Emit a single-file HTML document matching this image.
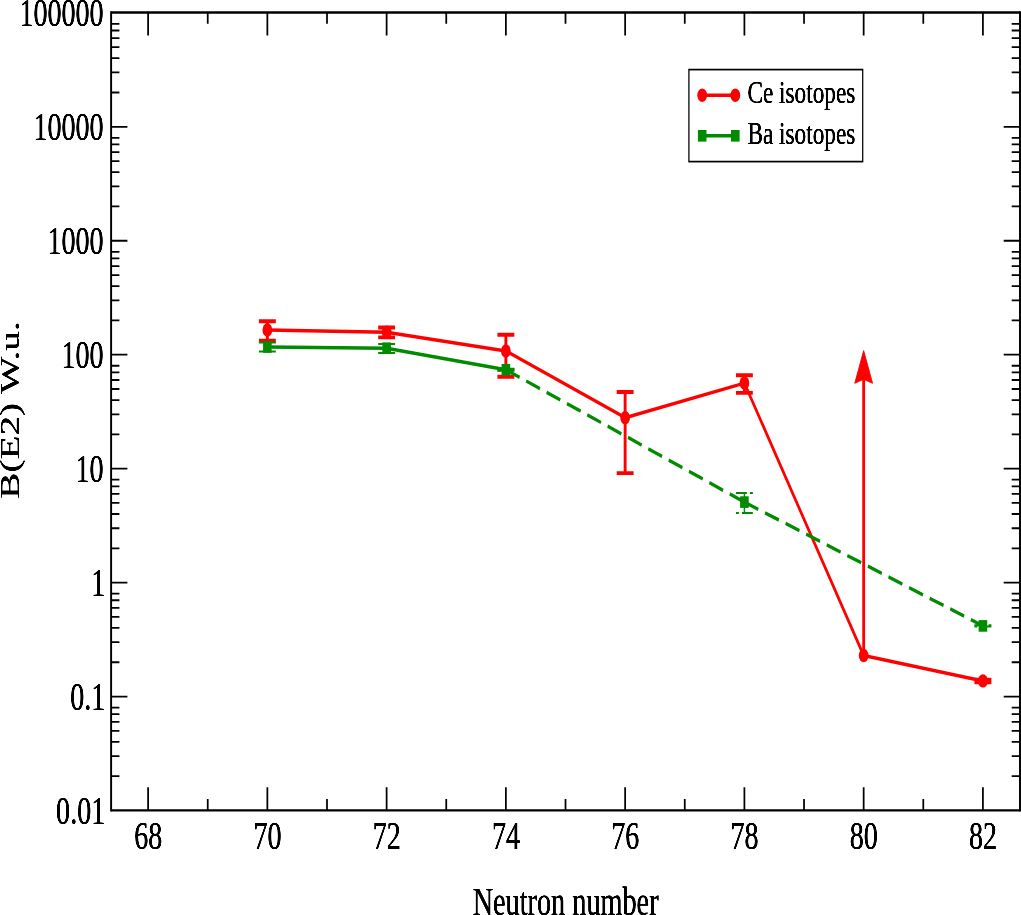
<!DOCTYPE html>
<html lang="en">
<head>
<meta charset="utf-8">
<title>B(E2) vs neutron number</title>
<style>
html,body{margin:0;padding:0;background:#fff;}
body{width:1021px;height:915px;overflow:hidden;}
svg{display:block;font-family:"Liberation Serif","Times New Roman",Times,serif;}
</style>
</head>
<body>
<svg width="1021" height="915" viewBox="0 0 1021 915">
<rect width="1021" height="915" fill="#fff"/>
<g transform="scale(0.74 1)">
<g stroke="#000" fill="none" stroke-linecap="butt">
<path d="M150.14 12.5H1378.38M150.14 810.35H1378.38" stroke-width="2.3"/>
<path d="M150.14 11.35V811.5M1378.38 11.35V811.5" stroke-width="2.64"/>
<path d="M200.14 12.5v23M200.14 810.35v-23M280.72 12.5v11.3M280.72 810.35v-11.3M361.3 12.5v23M361.3 810.35v-23M441.88 12.5v11.3M441.88 810.35v-11.3M522.46 12.5v23M522.46 810.35v-23M603.04 12.5v11.3M603.04 810.35v-11.3M683.62 12.5v23M683.62 810.35v-23M764.2 12.5v11.3M764.2 810.35v-11.3M844.78 12.5v23M844.78 810.35v-23M925.36 12.5v11.3M925.36 810.35v-11.3M1005.95 12.5v23M1005.95 810.35v-23M1086.53 12.5v11.3M1086.53 810.35v-11.3M1167.11 12.5v23M1167.11 810.35v-23M1247.69 12.5v11.3M1247.69 810.35v-11.3M1328.27 12.5v23M1328.27 810.35v-23" stroke-width="2.36"/>
<path d="M150.14 776.22h11.22M1378.38 776.22h-11.22M150.14 756.15h11.22M1378.38 756.15h-11.22M150.14 741.92h11.22M1378.38 741.92h-11.22M150.14 730.87h11.22M1378.38 730.87h-11.22M150.14 721.85h11.22M1378.38 721.85h-11.22M150.14 714.22h11.22M1378.38 714.22h-11.22M150.14 707.61h11.22M1378.38 707.61h-11.22M150.14 696.57h22.03M1378.38 696.57h-22.03M150.14 662.27h11.22M1378.38 662.27h-11.22M150.14 642.2h11.22M1378.38 642.2h-11.22M150.14 627.97h11.22M1378.38 627.97h-11.22M150.14 616.92h11.22M1378.38 616.92h-11.22M150.14 607.9h11.22M1378.38 607.9h-11.22M150.14 600.27h11.22M1378.38 600.27h-11.22M150.14 593.66h11.22M1378.38 593.66h-11.22M150.14 582.62h22.03M1378.38 582.62h-22.03M150.14 548.32h11.22M1378.38 548.32h-11.22M150.14 528.25h11.22M1378.38 528.25h-11.22M150.14 514.02h11.22M1378.38 514.02h-11.22M150.14 502.97h11.22M1378.38 502.97h-11.22M150.14 493.95h11.22M1378.38 493.95h-11.22M150.14 486.32h11.22M1378.38 486.32h-11.22M150.14 479.71h11.22M1378.38 479.71h-11.22M150.14 468.67h22.03M1378.38 468.67h-22.03M150.14 434.37h11.22M1378.38 434.37h-11.22M150.14 414.3h11.22M1378.38 414.3h-11.22M150.14 400.07h11.22M1378.38 400.07h-11.22M150.14 389.02h11.22M1378.38 389.02h-11.22M150.14 380h11.22M1378.38 380h-11.22M150.14 372.37h11.22M1378.38 372.37h-11.22M150.14 365.76h11.22M1378.38 365.76h-11.22M150.14 354.72h22.03M1378.38 354.72h-22.03M150.14 320.42h11.22M1378.38 320.42h-11.22M150.14 300.35h11.22M1378.38 300.35h-11.22M150.14 286.12h11.22M1378.38 286.12h-11.22M150.14 275.07h11.22M1378.38 275.07h-11.22M150.14 266.05h11.22M1378.38 266.05h-11.22M150.14 258.42h11.22M1378.38 258.42h-11.22M150.14 251.81h11.22M1378.38 251.81h-11.22M150.14 240.77h22.03M1378.38 240.77h-22.03M150.14 206.47h11.22M1378.38 206.47h-11.22M150.14 186.4h11.22M1378.38 186.4h-11.22M150.14 172.17h11.22M1378.38 172.17h-11.22M150.14 161.12h11.22M1378.38 161.12h-11.22M150.14 152.1h11.22M1378.38 152.1h-11.22M150.14 144.47h11.22M1378.38 144.47h-11.22M150.14 137.86h11.22M1378.38 137.86h-11.22M150.14 126.82h22.03M1378.38 126.82h-22.03M150.14 92.52h11.22M1378.38 92.52h-11.22M150.14 72.45h11.22M1378.38 72.45h-11.22M150.14 58.22h11.22M1378.38 58.22h-11.22M150.14 47.17h11.22M1378.38 47.17h-11.22M150.14 38.15h11.22M1378.38 38.15h-11.22M150.14 30.52h11.22M1378.38 30.52h-11.22M150.14 23.91h11.22M1378.38 23.91h-11.22" stroke-width="1.8"/>
</g>
<g stroke="#ff0000" fill="none">
<polyline points="361.3,329.9 522.46,332.3 683.62,351 844.78,417.7 1005.95,383.1 1167.11,655.5 1328.27,680.9" stroke-width="3.5" stroke-linejoin="round"/>
<path d="M361.3 321.2V340.7M349.88 321.2h22.84M349.88 340.7h22.84M522.46 327.5V337.4M511.04 327.5h22.84M511.04 337.4h22.84M683.62 334.7V376.8M672.2 334.7h22.84M672.2 376.8h22.84M844.78 392V473.1M833.36 392h22.84M833.36 473.1h22.84M1005.95 375.2V392.9M994.53 375.2h22.84M994.53 392.9h22.84M1328.27 679.6V682.2M1316.85 679.6h22.84M1316.85 682.2h22.84" stroke-width="3.9"/>
<path d="M1167.11 655.5V378" stroke-width="3.8"/>
</g>
<g fill="#ff0000">
<ellipse cx="361.3" cy="329.9" rx="6.6" ry="6.7"/>
<ellipse cx="522.46" cy="332.3" rx="6.6" ry="6.7"/>
<ellipse cx="683.62" cy="351" rx="6.6" ry="6.7"/>
<ellipse cx="844.78" cy="417.7" rx="6.6" ry="6.7"/>
<ellipse cx="1005.95" cy="383.1" rx="6.6" ry="6.7"/>
<ellipse cx="1167.11" cy="655.5" rx="6.6" ry="6.7"/>
<ellipse cx="1328.27" cy="680.9" rx="6.6" ry="6.7"/>
<path d="M1167.11 350.6L1179.14 383.3L1167.11 379.3L1155.08 383.3Z" stroke="#ff0000" stroke-width="1" stroke-linejoin="round"/>
</g>
<g stroke="#008b00" fill="none">
<polyline points="361.3,347 522.46,348.2 683.62,369.7" stroke-width="3.5" stroke-linejoin="round"/>
<path d="M361.3 342.5V351.5M349.88 342.5h22.84M349.88 351.5h22.84M522.46 343.9V352.9M511.04 343.9h22.84M511.04 352.9h22.84M683.62 368.7V370.7M672.2 368.7h22.84M672.2 370.7h22.84" stroke-width="2"/>
<line x1="683.62" y1="369.7" x2="1005.95" y2="502.1" stroke-width="3.5" stroke-dasharray="20.05 9.68"/>
<line x1="1005.95" y1="502.1" x2="1328.27" y2="625.9" stroke-width="3.5" stroke-dasharray="20.1 9.7"/>
<path d="M683.62 368.9V370.5" stroke-width="2"/>
<path d="M672.2 368.9h22.84" stroke-width="2" stroke-dasharray="14.7 4.2"/>
<path d="M695.04 370.5h-22.84" stroke-width="2" stroke-dasharray="14.7 4.2"/>
<path d="M1005.95 492.9V512.9" stroke-width="2"/>
<path d="M994.53 492.9h22.84" stroke-width="2" stroke-dasharray="14.7 4.2"/>
<path d="M1017.36 512.9h-22.84" stroke-width="2" stroke-dasharray="14.7 4.2"/>
<path d="M1328.27 625.2V626.6" stroke-width="2"/>
<path d="M1316.85 625.2h22.84" stroke-width="2" stroke-dasharray="14.7 4.2"/>
<path d="M1339.69 626.6h-22.84" stroke-width="2" stroke-dasharray="14.7 4.2"/>
</g>
<g fill="#008b00">
<rect x="355.5" y="341.2" width="11.6" height="11.6"/>
<rect x="516.66" y="342.4" width="11.6" height="11.6"/>
<rect x="677.82" y="363.9" width="11.6" height="11.6"/>
<rect x="1000.15" y="496.3" width="11.6" height="11.6"/>
<rect x="1322.47" y="620.1" width="11.6" height="11.6"/>
</g>
<rect x="930.95" y="69.6" width="234.86" height="92.0" fill="#fff" stroke="#000" stroke-width="1.7"/>
<path d="M948.92 95.2H993.65" stroke="#ff0000" stroke-width="3.5"/>
<ellipse cx="948.92" cy="95.2" rx="6.6" ry="6.7" fill="#ff0000"/><ellipse cx="993.65" cy="95.2" rx="6.6" ry="6.7" fill="#ff0000"/>
<path d="M948.92 135.8H993.65" stroke="#008b00" stroke-width="3.5"/>
<rect x="943.12" y="130" width="11.6" height="11.6" fill="#008b00"/>
<rect x="987.85" y="130" width="11.6" height="11.6" fill="#008b00"/>
</g>
<defs><filter id="tb" x="0" y="0" width="1021" height="915" filterUnits="userSpaceOnUse" color-interpolation-filters="sRGB"><feGaussianBlur stdDeviation="0.7 0.15"/><feComponentTransfer><feFuncA type="linear" slope="1.9" intercept="0"/></feComponentTransfer></filter><filter id="tr" x="0" y="0" width="60" height="915" filterUnits="userSpaceOnUse" color-interpolation-filters="sRGB"><feGaussianBlur stdDeviation="0.2 0.5"/><feComponentTransfer><feFuncA type="linear" slope="1.9" intercept="0"/></feComponentTransfer></filter></defs>
<g fill="#000" filter="url(#tb)">
<text transform="translate(103.6 25.97) scale(0.698 1)" font-size="40.2" text-anchor="end">100000</text>
<text transform="translate(103.6 139.92) scale(0.698 1)" font-size="40.2" text-anchor="end">10000</text>
<text transform="translate(103.6 253.87) scale(0.698 1)" font-size="40.2" text-anchor="end">1000</text>
<text transform="translate(103.6 367.82) scale(0.698 1)" font-size="40.2" text-anchor="end">100</text>
<text transform="translate(103.6 481.77) scale(0.698 1)" font-size="40.2" text-anchor="end">10</text>
<text transform="translate(105.2 595.72) scale(0.698 1)" font-size="40.2" text-anchor="end">1</text>
<text transform="translate(105.2 709.67) scale(0.698 1)" font-size="40.2" text-anchor="end">0.1</text>
<text transform="translate(105.2 823.62) scale(0.698 1)" font-size="40.2" text-anchor="end">0.01</text>
<text transform="translate(148.2 848.6) scale(0.698 1)" font-size="40.2" text-anchor="middle">68</text>
<text transform="translate(267.46 848.6) scale(0.698 1)" font-size="40.2" text-anchor="middle">70</text>
<text transform="translate(386.72 848.6) scale(0.698 1)" font-size="40.2" text-anchor="middle">72</text>
<text transform="translate(505.98 848.6) scale(0.698 1)" font-size="40.2" text-anchor="middle">74</text>
<text transform="translate(625.24 848.6) scale(0.698 1)" font-size="40.2" text-anchor="middle">76</text>
<text transform="translate(744.5 848.6) scale(0.698 1)" font-size="40.2" text-anchor="middle">78</text>
<text transform="translate(863.76 848.6) scale(0.698 1)" font-size="40.2" text-anchor="middle">80</text>
<text transform="translate(983.02 848.6) scale(0.698 1)" font-size="40.2" text-anchor="middle">82</text>
<text transform="translate(565.6 914.8) scale(0.703 1)" font-size="40.2" text-anchor="middle">Neutron number</text>
<text transform="translate(747.4 102.95) scale(0.718 1)" font-size="32.4" text-anchor="start">Ce isotopes</text>
<text transform="translate(747.4 143.55) scale(0.718 1)" font-size="32.4" text-anchor="start">Ba isotopes</text>
</g>
<g fill="#000" filter="url(#tr)">
<text transform="translate(19 410) scale(0.715 1) rotate(-90)" font-size="39.2" text-anchor="middle">B(E2) W.u.</text>
</g>
</svg>
</body>
</html>
